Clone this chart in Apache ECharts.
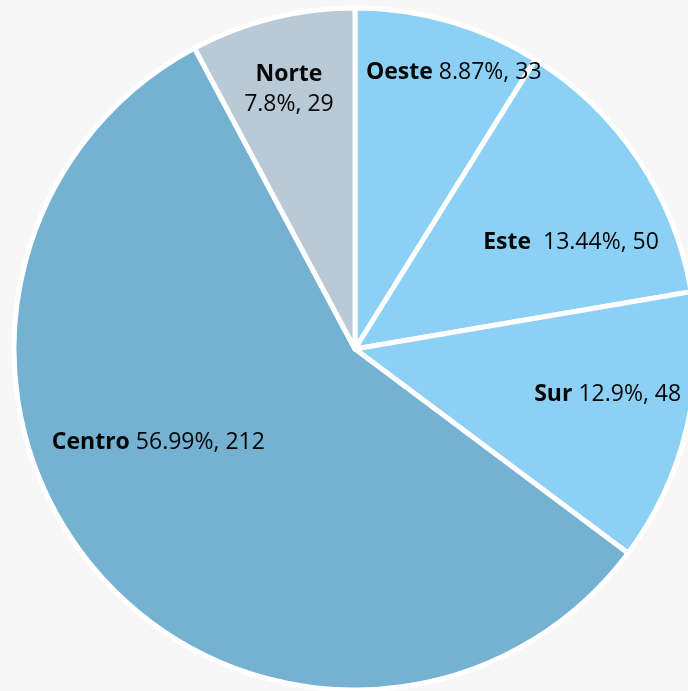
<!DOCTYPE html>
<html>
<head>
<meta charset="utf-8">
<script src="https://cdn.jsdelivr.net/npm/echarts@6/dist/echarts.min.js"></script>
<style>
  html, body { margin: 0; padding: 0; background: #f7f7f7; }
  #pie { width: 688px; height: 691px; }
</style>
</head>
<body>
<div id="pie"></div>
<script>
var regions = ["Oeste", "Este", "Sur", "Centro", "Norte"];
var counts = [33, 50, 48, 212, 29];
var colors = ["#8dd0f5", "#8dd0f5", "#8dd0f5", "#75b1d1", "#b9cad6"];
var separators = [" ", "  ", " ", " ", "\n"];
// shift from the default inside spot to where each label sits
var labelOffsets = [[51, -110], [72, -10], [84, 5], [-65, -20], [-24, -91]];

var myChart = echarts.init(document.getElementById("pie"));
var option = {
  backgroundColor: "#f7f7f7",
  series: [
    {
      type: "pie",
      center: [355, 349],
      radius: [0, 341],
      startAngle: 90,
      clockwise: true,
      animation: false,
      itemStyle: {
        borderColor: "#ffffff",
        borderWidth: 5,
      },
      label: {
        position: "inside",
        color: "#050505",
        fontFamily: "Open Sans",
        fontSize: 23,
        lineHeight: 30,
        rich: {
          b: { fontWeight: "bold", fontFamily: "Open Sans", fontSize: 23, color: "#050505", lineHeight: 30 },
        },
      },
      labelLine: { show: false },
      data: regions.map(function (name, i) {
        return {
          name: name,
          value: counts[i],
          itemStyle: { color: colors[i] },
          label: {
            offset: labelOffsets[i],
            formatter: function (p) {
              return "{b|" + p.name + "}" + separators[i] + p.percent + "%, " + p.value;
            },
          },
        };
      }),
    },
  ],
};
myChart.setOption(option);
</script>
</body>
</html>
